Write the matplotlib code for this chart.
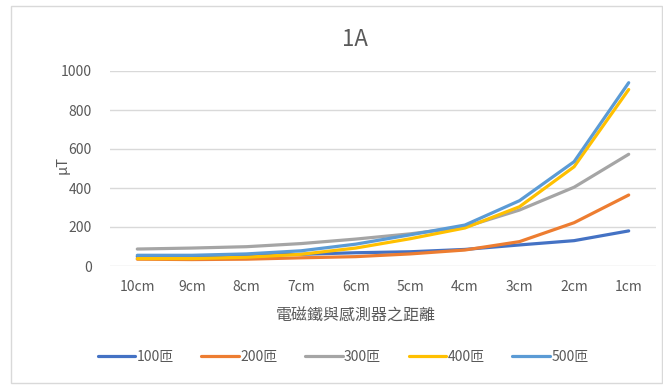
import numpy as np
import matplotlib.pyplot as plt
from matplotlib.patches import Rectangle

plt.rcParams['font.family'] = ['Noto Sans CJK TC', 'DejaVu Sans']

# Data
distances = ['10cm', '9cm', '8cm', '7cm', '6cm', '5cm', '4cm', '3cm', '2cm', '1cm']
turns_100 = [48, 50, 55, 60, 68, 73, 85, 108, 130, 180]
turns_200 = [35, 33, 35, 42, 48, 62, 82, 125, 222, 364]
turns_300 = [87, 92, 99, 115, 138, 165, 200, 287, 404, 573]
turns_400 = [38, 38, 45, 60, 92, 140, 195, 304, 509, 905]
turns_500 = [55, 55, 62, 78, 112, 160, 210, 335, 535, 940]
series_names = ['100匝', '200匝', '300匝', '400匝', '500匝']
colors = ['#4472C4', '#ED7D31', '#A5A5A5', '#FFC000', '#5B9BD5']

fig = plt.figure(figsize=(6.63, 3.85), dpi=100)
ax = fig.add_axes([110 / 663, 1 - 266 / 385, 546 / 663, 195 / 385])

x = np.arange(len(distances))
for name, vals, c in zip(series_names,
                         [turns_100, turns_200, turns_300, turns_400, turns_500],
                         colors):
    ax.plot(x, vals, color=c, lw=2.3, label=name, solid_capstyle='round')

ax.set_xlim(-0.5, len(distances) - 0.5)
ax.set_ylim(0, 1000)
ax.set_yticks(range(0, 1001, 200))
ax.set_xticks(x)
ax.set_xticklabels(distances)
ax.grid(axis='y', color='#d9d9d9', lw=1)
ax.set_axisbelow(True)
for s in ax.spines.values():
    s.set_visible(False)
ax.tick_params(length=0, colors='#595959', labelsize=10)
ax.tick_params(axis='y', pad=13)
ax.tick_params(axis='x', pad=10)

ax.set_xlabel('電磁鐵與感測器之距離', fontsize=11.5, color='#595959')
ax.xaxis.set_label_coords(0.45, -42 / 195)
ax.set_ylabel('μT', fontsize=10.5, color='#595959')
ax.yaxis.set_label_coords(-40 / 546, 0.52)
fig.text(355 / 663, 1 - 40 / 385, '1A', ha='center', va='center',
         fontsize=16, color='#595959')

leg = fig.legend(loc='center', bbox_to_anchor=(343 / 663, 1 - 357 / 385),
                 ncol=5, frameon=False, fontsize=10, handlelength=2.7,
                 handletextpad=0.1, columnspacing=2.0)
for t in leg.get_texts():
    t.set_color('#595959')

# chart border
fig.patches.append(Rectangle((11 / 663, 2 / 385), 651 / 663, 377 / 385,
                             transform=fig.transFigure, fill=False,
                             edgecolor='#d9d9d9', lw=1))

fig.savefig('out.png', dpi=100)
